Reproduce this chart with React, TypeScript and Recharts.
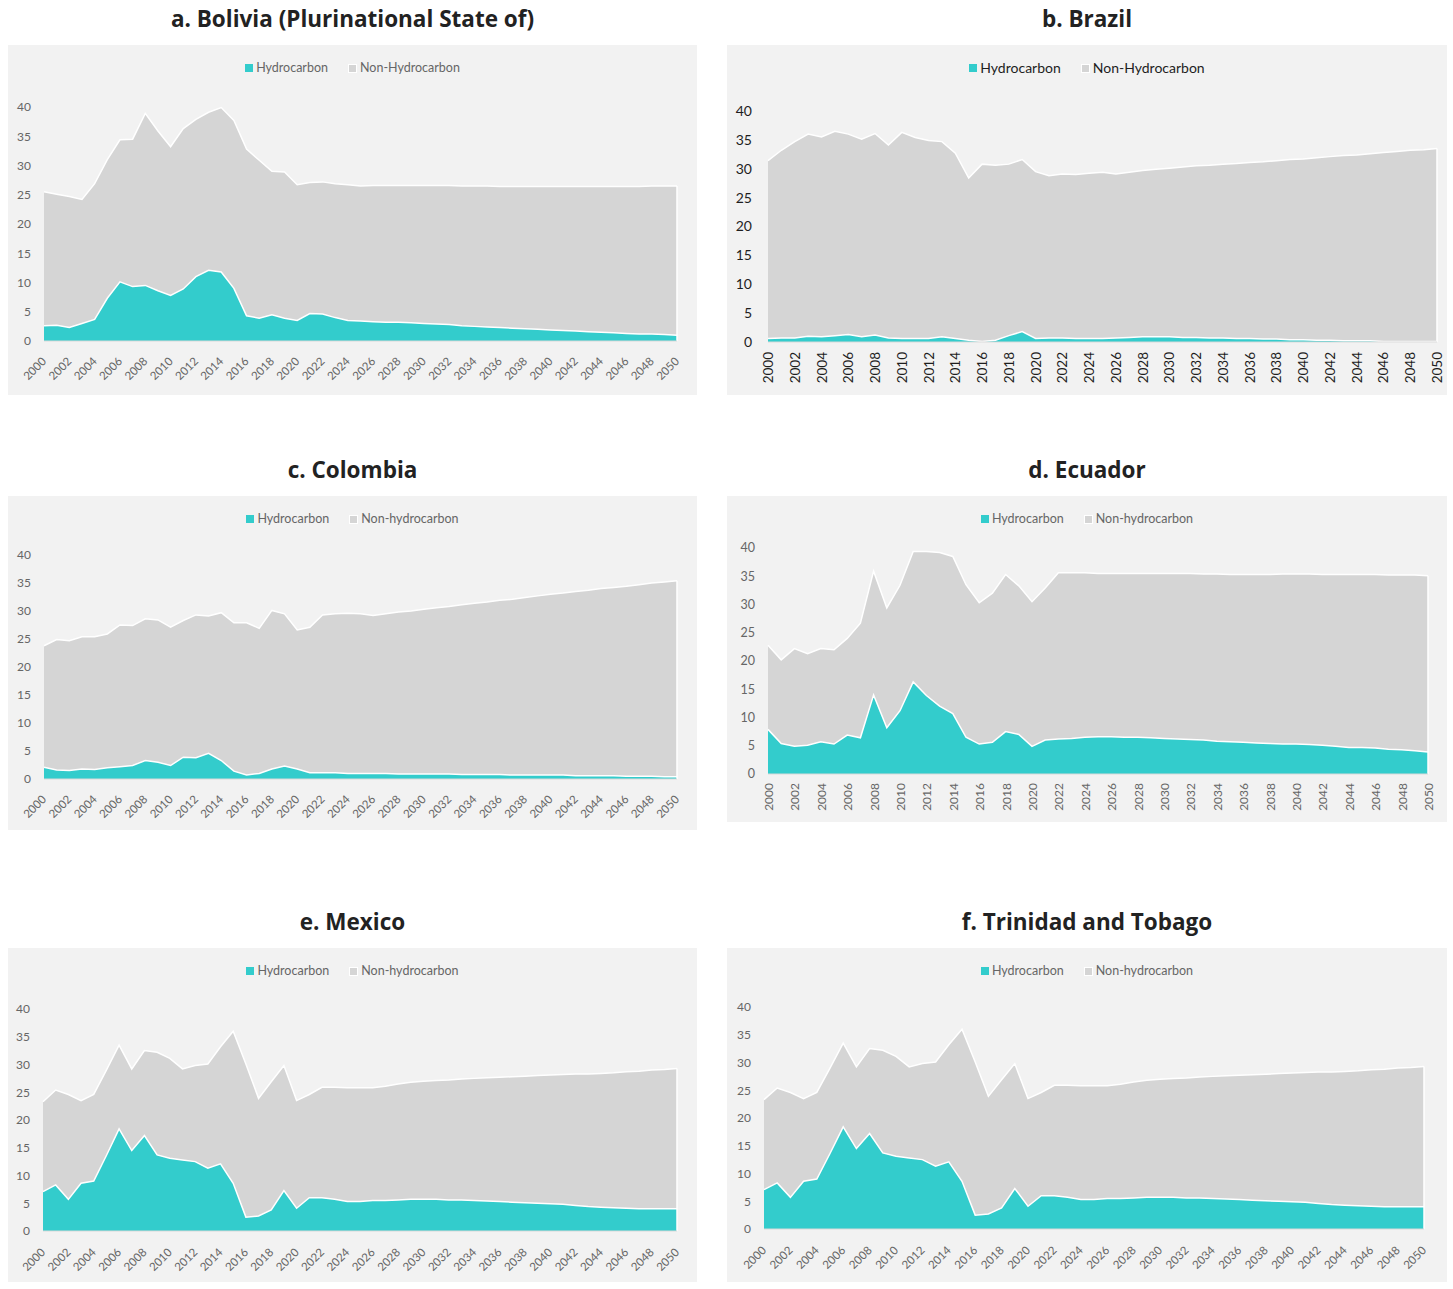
import { Area, AreaChart, ReferenceLine, XAxis, YAxis } from "recharts"

// Years on the horizontal axis
const years = [
  2000, 2001, 2002, 2003, 2004, 2005, 2006, 2007, 2008, 2009,
  2010, 2011, 2012, 2013, 2014, 2015, 2016, 2017, 2018, 2019,
  2020, 2021, 2022, 2023, 2024, 2025, 2026, 2027, 2028, 2029,
  2030, 2031, 2032, 2033, 2034, 2035, 2036, 2037, 2038, 2039,
  2040, 2041, 2042, 2043, 2044, 2045, 2046, 2047, 2048, 2049,
  2050,
]

const yearTicks = [
  2000, 2002, 2004, 2006, 2008, 2010, 2012, 2014, 2016, 2018, 2020, 2022, 2024,
  2026, 2028, 2030, 2032, 2034, 2036, 2038, 2040, 2042, 2044, 2046, 2048, 2050,
]
const valueTicks = [0, 5, 10, 15, 20, 25, 30, 35, 40]

// Total revenue (top of the stack) and hydrocarbon share, per country
const boliviaTotal = [
  25.5, 25.1, 24.7, 24.2, 26.9, 31.0, 34.4, 34.5, 38.9, 35.9,
  33.2, 36.3, 37.9, 39.1, 39.9, 37.7, 32.8, 30.9, 29.0, 28.9,
  26.7, 27.1, 27.2, 26.9, 26.7, 26.5, 26.6, 26.6, 26.6, 26.6,
  26.6, 26.6, 26.6, 26.5, 26.5, 26.5, 26.4, 26.4, 26.4, 26.4,
  26.4, 26.4, 26.4, 26.4, 26.4, 26.4, 26.4, 26.4, 26.5, 26.5,
  26.5,
]
const boliviaHydro = [
  2.6, 2.7, 2.3, 3.0, 3.7, 7.3, 10.1, 9.3, 9.5, 8.6,
  7.8, 8.9, 11.0, 12.1, 11.8, 9.0, 4.3, 3.9, 4.5, 3.9,
  3.5, 4.7, 4.6, 4.0, 3.5, 3.4, 3.3, 3.2, 3.2, 3.1,
  3.0, 2.9, 2.8, 2.6, 2.5, 2.4, 2.3, 2.2, 2.1, 2.0,
  1.9, 1.8, 1.7, 1.6, 1.5, 1.4, 1.3, 1.2, 1.2, 1.1,
  1.0,
]

const brazilTotal = [
  31.4, 33.2, 34.7, 36.0, 35.5, 36.5, 36.0, 35.1, 36.1, 34.1,
  36.3, 35.4, 34.9, 34.7, 32.7, 28.4, 30.8, 30.6, 30.8, 31.6,
  29.5, 28.8, 29.1, 29.0, 29.2, 29.4, 29.1, 29.4, 29.7, 29.9,
  30.1, 30.3, 30.5, 30.6, 30.8, 30.9, 31.1, 31.2, 31.4, 31.6,
  31.7, 31.9, 32.1, 32.3, 32.4, 32.6, 32.8, 33.0, 33.2, 33.3,
  33.5,
]
const brazilHydro = [
  0.6, 0.7, 0.7, 1.0, 0.9, 1.1, 1.3, 0.9, 1.2, 0.7,
  0.6, 0.6, 0.6, 0.9, 0.6, 0.3, 0.1, 0.3, 1.1, 1.8,
  0.6, 0.7, 0.7, 0.6, 0.6, 0.6, 0.7, 0.8, 0.9, 0.9,
  0.9, 0.8, 0.8, 0.7, 0.7, 0.6, 0.6, 0.5, 0.5, 0.4,
  0.4, 0.3, 0.3, 0.2, 0.2, 0.2, 0.1, 0.1, 0.1, 0.1,
  0.1,
]

const colombiaTotal = [
  23.8, 24.9, 24.7, 25.4, 25.4, 25.9, 27.5, 27.4, 28.6, 28.4,
  27.1, 28.3, 29.3, 29.1, 29.7, 27.9, 27.9, 26.9, 30.1, 29.5,
  26.6, 27.1, 29.3, 29.5, 29.6, 29.5, 29.2, 29.5, 29.8, 30.0,
  30.3, 30.6, 30.8, 31.1, 31.4, 31.6, 31.9, 32.1, 32.4, 32.7,
  33.0, 33.2, 33.5, 33.7, 34.0, 34.2, 34.4, 34.7, 35.0, 35.2,
  35.4,
]
const colombiaHydro = [
  2.1, 1.6, 1.5, 1.8, 1.7, 2.0, 2.2, 2.4, 3.3, 3.0,
  2.4, 3.9, 3.8, 4.6, 3.3, 1.4, 0.7, 1.0, 1.8, 2.3,
  1.8, 1.1, 1.1, 1.1, 1.0, 1.0, 1.0, 1.0, 0.9, 0.9,
  0.9, 0.9, 0.9, 0.8, 0.8, 0.8, 0.8, 0.7, 0.7, 0.7,
  0.7, 0.7, 0.6, 0.6, 0.6, 0.6, 0.5, 0.5, 0.5, 0.4,
  0.4,
]

const ecuadorTotal = [
  22.8, 20.2, 22.2, 21.3, 22.2, 22.0, 24.0, 26.7, 35.9, 29.4,
  33.4, 39.4, 39.4, 39.2, 38.5, 33.5, 30.3, 32.0, 35.3, 33.3,
  30.5, 32.9, 35.6, 35.6, 35.6, 35.5, 35.5, 35.5, 35.5, 35.5,
  35.5, 35.5, 35.5, 35.4, 35.4, 35.3, 35.3, 35.3, 35.3, 35.4,
  35.4, 35.4, 35.3, 35.3, 35.3, 35.3, 35.3, 35.2, 35.2, 35.2,
  35.1,
]
const ecuadorHydro = [
  7.9, 5.4, 4.9, 5.1, 5.7, 5.3, 6.9, 6.4, 14.0, 8.2,
  11.2, 16.3, 13.9, 12.0, 10.7, 6.5, 5.3, 5.6, 7.5, 7.0,
  4.9, 6.0, 6.2, 6.3, 6.5, 6.6, 6.6, 6.5, 6.5, 6.4,
  6.3, 6.2, 6.1, 6.0, 5.8, 5.7, 5.6, 5.5, 5.4, 5.3,
  5.3, 5.2, 5.1, 4.9, 4.7, 4.7, 4.6, 4.4, 4.3, 4.1,
  3.9,
]

const mexicoTotal = [
  23.3, 25.4, 24.6, 23.5, 24.6, 29.0, 33.5, 29.2, 32.5, 32.2,
  31.1, 29.2, 29.8, 30.1, 33.2, 36.0, 30.1, 23.9, 26.9, 29.8,
  23.5, 24.6, 25.9, 25.9, 25.8, 25.8, 25.8, 26.1, 26.5, 26.8,
  27.0, 27.1, 27.2, 27.4, 27.5, 27.6, 27.7, 27.8, 27.9, 28.0,
  28.1, 28.2, 28.3, 28.3, 28.4, 28.5, 28.7, 28.8, 29.0, 29.1,
  29.3,
]
const mexicoHydro = [
  7.1, 8.3, 5.7, 8.6, 9.0, 13.6, 18.4, 14.5, 17.2, 13.7,
  13.1, 12.8, 12.5, 11.3, 12.1, 8.6, 2.5, 2.7, 3.8, 7.3,
  4.1, 6.0, 6.0, 5.7, 5.3, 5.3, 5.5, 5.5, 5.6, 5.7,
  5.7, 5.7, 5.6, 5.6, 5.5, 5.4, 5.3, 5.2, 5.1, 5.0,
  4.9, 4.8, 4.6, 4.4, 4.3, 4.2, 4.1, 4.0, 4.0, 4.0,
  4.0,
]

const trinidadTotal = [
  23.3, 25.4, 24.6, 23.5, 24.6, 29.0, 33.5, 29.2, 32.5, 32.2,
  31.1, 29.2, 29.8, 30.1, 33.2, 36.0, 30.1, 23.9, 26.9, 29.8,
  23.5, 24.6, 25.9, 25.9, 25.8, 25.8, 25.8, 26.1, 26.5, 26.8,
  27.0, 27.1, 27.2, 27.4, 27.5, 27.6, 27.7, 27.8, 27.9, 28.0,
  28.1, 28.2, 28.3, 28.3, 28.4, 28.5, 28.7, 28.8, 29.0, 29.1,
  29.3,
]
const trinidadHydro = [
  7.1, 8.3, 5.7, 8.6, 9.0, 13.6, 18.4, 14.5, 17.2, 13.7,
  13.1, 12.8, 12.5, 11.3, 12.1, 8.6, 2.5, 2.7, 3.8, 7.3,
  4.1, 6.0, 6.0, 5.7, 5.3, 5.3, 5.5, 5.5, 5.6, 5.7,
  5.7, 5.7, 5.6, 5.6, 5.5, 5.4, 5.3, 5.2, 5.1, 5.0,
  4.9, 4.8, 4.6, 4.4, 4.3, 4.2, 4.1, 4.0, 4.0, 4.0,
  4.0,
]

const TEAL = "#33cccc"
const GREY = "#d5d5d5"
const PANEL_BG = "#f2f2f2"
const FONT = "Lato, 'Open Sans', sans-serif"
const TITLE_FONT = "'Open Sans', Lato, sans-serif"

interface PanelProps {
  title: string
  nonLabel: string
  total: number[]
  hydro: number[]
  left: number
  top: number
  width: number
  height: number
  plot: { left: number; right: number; top: number; bottom: number }
  vertical?: boolean
  dark?: boolean
  tickDx: number
  tickDy: number
}

function Panel(props: PanelProps) {
  const { title, nonLabel, total, hydro, left, top, width, height, plot, vertical, dark, tickDx, tickDy } = props
  const data = years.map((year, i) => ({ year, total: total[i], hydro: hydro[i] }))
  const lastYear = years[years.length - 1]
  const textColor = dark ? "#1e1e1e" : "#666666"
  const tickSize = dark ? 13.5 : vertical ? 12 : 11.5
  const legendSize = dark ? 14 : 12.5

  // Rotated year labels under the axis
  const YearTick = ({ x, y, payload }: any) => (
    <text
      transform={`translate(${x + tickDx},${y + tickDy}) rotate(${vertical ? -90 : -45})`}
      textAnchor="end"
      fontSize={tickSize}
      fill={textColor}
      fontFamily={FONT}
    >
      {payload.value}
    </text>
  )

  return (
    <>
      <div
        style={{
          position: "absolute",
          left,
          top: top - 42,
          width,
          textAlign: "center",
          fontFamily: TITLE_FONT,
          fontWeight: 700,
          fontSize: 22.5,
          lineHeight: "32px",
          color: "#222222",
        }}
      >
        {title}
      </div>
      <div style={{ position: "absolute", left, top, width, height, background: PANEL_BG }}>
        <div
          style={{
            position: "absolute",
            top: 14,
            left: 0,
            width,
            display: "flex",
            justifyContent: "center",
            alignItems: "center",
            gap: 20,
            fontFamily: FONT,
            fontSize: legendSize,
            color: textColor,
            lineHeight: "18px",
          }}
        >
          <span style={{ display: "flex", alignItems: "center", gap: 3 }}>
            <span style={{ width: 8, height: 8, background: TEAL, display: "inline-block" }} />
            Hydrocarbon
          </span>
          <span style={{ display: "flex", alignItems: "center", gap: 3 }}>
            <span
              style={{ width: 7, height: 7, background: GREY, border: "1px solid #ffffff", display: "inline-block" }}
            />
            {nonLabel}
          </span>
        </div>
        <AreaChart
          width={width}
          height={height}
          data={data}
          margin={{ top: plot.top, right: plot.right, bottom: 0, left: 0 }}
        >
          <XAxis
            dataKey="year"
            type="number"
            domain={[2000, 2050]}
            ticks={yearTicks}
            interval={0}
            height={plot.bottom}
            tickSize={0}
            tickMargin={0}
            tickLine={false}
            axisLine={{ stroke: "#d9d9d9" }}
            tick={<YearTick />}
          />
          <YAxis
            domain={[0, 40]}
            ticks={valueTicks}
            width={plot.left}
            tickSize={0}
            tickMargin={dark ? 16 : 13}
            tickLine={false}
            axisLine={false}
            tick={{ fontSize: tickSize + 0.5, fill: textColor, fontFamily: FONT }}
          />
          <Area
            dataKey="total"
            name={nonLabel}
            type="linear"
            stroke="#ffffff"
            strokeWidth={1.5}
            fill={GREY}
            fillOpacity={1}
            isAnimationActive={false}
          />
          <Area
            dataKey="hydro"
            name="Hydrocarbon"
            type="linear"
            stroke="#ffffff"
            strokeWidth={1.5}
            fill={TEAL}
            fillOpacity={1}
            isAnimationActive={false}
          />
          {/* white edge closing the stack at the last year */}
          <ReferenceLine
            segment={[
              { x: lastYear, y: 0 },
              { x: lastYear, y: total[total.length - 1] },
            ]}
            stroke="#ffffff"
            strokeWidth={1.5}
          />
        </AreaChart>
      </div>
    </>
  )
}

export default function App() {
  return (
    <div style={{ position: "absolute", left: 0, top: 0, width: 1453, height: 1289, background: "#ffffff" }}>
      <Panel
        title="a. Bolivia (Plurinational State of)"
        nonLabel="Non-Hydrocarbon"
        total={boliviaTotal}
        hydro={boliviaHydro}
        left={8}
        top={45}
        width={689}
        height={350}
        plot={{ left: 36, right: 20, top: 62, bottom: 54 }}
        tickDx={3}
        tickDy={21}
      />
      <Panel
        title="b. Brazil"
        nonLabel="Non-Hydrocarbon"
        total={brazilTotal}
        hydro={brazilHydro}
        left={727}
        top={45}
        width={720}
        height={350}
        plot={{ left: 41, right: 10, top: 66, bottom: 53 }}
        vertical
        dark
        tickDx={5}
        tickDy={10}
      />
      <Panel
        title="c. Colombia"
        nonLabel="Non-hydrocarbon"
        total={colombiaTotal}
        hydro={colombiaHydro}
        left={8}
        top={496}
        width={689}
        height={334}
        plot={{ left: 36, right: 20, top: 59, bottom: 51 }}
        tickDx={3}
        tickDy={21}
      />
      <Panel
        title="d. Ecuador"
        nonLabel="Non-hydrocarbon"
        total={ecuadorTotal}
        hydro={ecuadorHydro}
        left={727}
        top={496}
        width={720}
        height={326}
        plot={{ left: 41, right: 19, top: 52, bottom: 48 }}
        vertical
        tickDx={5}
        tickDy={9}
      />
      <Panel
        title="e. Mexico"
        nonLabel="Non-hydrocarbon"
        total={mexicoTotal}
        hydro={mexicoHydro}
        left={8}
        top={948}
        width={689}
        height={334}
        plot={{ left: 35, right: 20, top: 61, bottom: 51 }}
        tickDx={3}
        tickDy={22}
      />
      <Panel
        title="f. Trinidad and Tobago"
        nonLabel="Non-hydrocarbon"
        total={trinidadTotal}
        hydro={trinidadHydro}
        left={727}
        top={948}
        width={720}
        height={334}
        plot={{ left: 37, right: 23, top: 59, bottom: 53 }}
        tickDx={3}
        tickDy={22}
      />
    </div>
  )
}
